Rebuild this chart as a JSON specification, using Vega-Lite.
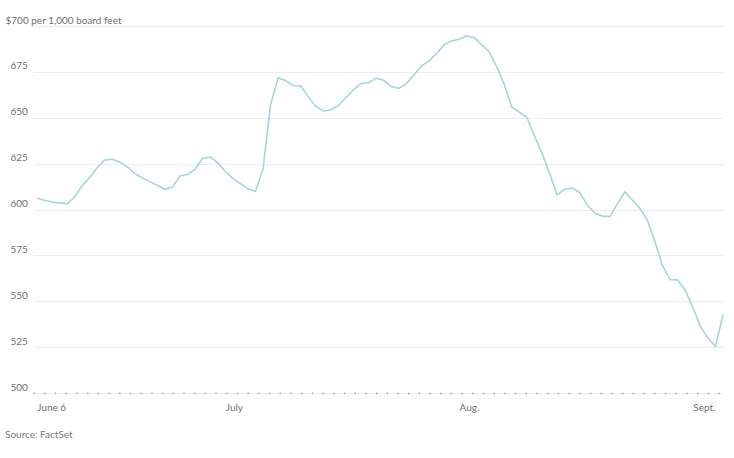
{
  "$schema": "https://vega.github.io/schema/vega-lite/v6.json",
  "autosize": "none",
  "width": 690,
  "height": 367,
  "padding": {"left": 33, "top": 26, "right": 11, "bottom": 65},
  "background": "white",
  "config": {
    "view": {"stroke": null},
    "font": "Lato",
    "axis": {"labelFont": "Lato", "labelFontSize": 10, "labelColor": "#6f6f6f"}
  },
  "title": {
    "text": "Source: FactSet",
    "orient": "bottom",
    "anchor": "start",
    "frame": "group",
    "dx": -28,
    "offset": 18,
    "font": "Lato",
    "fontSize": 10,
    "fontWeight": "normal",
    "color": "#7a7a7a"
  },
  "data": {
    "values": [
      {"date": "2022-06-06", "price": 606.1},
      {"date": "2022-06-07", "price": 605.0},
      {"date": "2022-06-08", "price": 604.1},
      {"date": "2022-06-09", "price": 603.6},
      {"date": "2022-06-10", "price": 603.1},
      {"date": "2022-06-11", "price": 606.8},
      {"date": "2022-06-12", "price": 612.8},
      {"date": "2022-06-13", "price": 617.5},
      {"date": "2022-06-14", "price": 622.7},
      {"date": "2022-06-15", "price": 627.0},
      {"date": "2022-06-16", "price": 627.4},
      {"date": "2022-06-17", "price": 625.9},
      {"date": "2022-06-18", "price": 623.2},
      {"date": "2022-06-19", "price": 619.7},
      {"date": "2022-06-20", "price": 617.2},
      {"date": "2022-06-21", "price": 615.2},
      {"date": "2022-06-22", "price": 613.1},
      {"date": "2022-06-23", "price": 611.0},
      {"date": "2022-06-24", "price": 612.2},
      {"date": "2022-06-25", "price": 618.3},
      {"date": "2022-06-26", "price": 619.1},
      {"date": "2022-06-27", "price": 621.9},
      {"date": "2022-06-28", "price": 627.9},
      {"date": "2022-06-29", "price": 628.6},
      {"date": "2022-06-30", "price": 625.4},
      {"date": "2022-07-01", "price": 620.7},
      {"date": "2022-07-02", "price": 617.0},
      {"date": "2022-07-03", "price": 614.1},
      {"date": "2022-07-04", "price": 611.3},
      {"date": "2022-07-05", "price": 609.8},
      {"date": "2022-07-06", "price": 622.0},
      {"date": "2022-07-07", "price": 657.0},
      {"date": "2022-07-08", "price": 671.8},
      {"date": "2022-07-09", "price": 670.2},
      {"date": "2022-07-10", "price": 667.6},
      {"date": "2022-07-11", "price": 667.3},
      {"date": "2022-07-12", "price": 661.5},
      {"date": "2022-07-13", "price": 656.2},
      {"date": "2022-07-14", "price": 653.7},
      {"date": "2022-07-15", "price": 654.4},
      {"date": "2022-07-16", "price": 656.6},
      {"date": "2022-07-17", "price": 661.0},
      {"date": "2022-07-18", "price": 665.2},
      {"date": "2022-07-19", "price": 668.7},
      {"date": "2022-07-20", "price": 669.1},
      {"date": "2022-07-21", "price": 671.6},
      {"date": "2022-07-22", "price": 670.4},
      {"date": "2022-07-23", "price": 667.0},
      {"date": "2022-07-24", "price": 666.0},
      {"date": "2022-07-25", "price": 668.5},
      {"date": "2022-07-26", "price": 673.3},
      {"date": "2022-07-27", "price": 678.2},
      {"date": "2022-07-28", "price": 681.0},
      {"date": "2022-07-29", "price": 684.9},
      {"date": "2022-07-30", "price": 689.7},
      {"date": "2022-07-31", "price": 691.8},
      {"date": "2022-08-01", "price": 692.8},
      {"date": "2022-08-02", "price": 694.6},
      {"date": "2022-08-03", "price": 693.7},
      {"date": "2022-08-04", "price": 689.8},
      {"date": "2022-08-05", "price": 686.0},
      {"date": "2022-08-06", "price": 677.7},
      {"date": "2022-08-07", "price": 668.0},
      {"date": "2022-08-08", "price": 655.7},
      {"date": "2022-08-09", "price": 653.0},
      {"date": "2022-08-10", "price": 650.1},
      {"date": "2022-08-11", "price": 640.1},
      {"date": "2022-08-12", "price": 630.7},
      {"date": "2022-08-13", "price": 619.6},
      {"date": "2022-08-14", "price": 608.0},
      {"date": "2022-08-15", "price": 611.0},
      {"date": "2022-08-16", "price": 611.7},
      {"date": "2022-08-17", "price": 609.3},
      {"date": "2022-08-18", "price": 602.3},
      {"date": "2022-08-19", "price": 598.1},
      {"date": "2022-08-20", "price": 596.4},
      {"date": "2022-08-21", "price": 596.1},
      {"date": "2022-08-22", "price": 603.2},
      {"date": "2022-08-23", "price": 609.6},
      {"date": "2022-08-24", "price": 605.0},
      {"date": "2022-08-25", "price": 600.6},
      {"date": "2022-08-26", "price": 594.0},
      {"date": "2022-08-27", "price": 582.2},
      {"date": "2022-08-28", "price": 569.2},
      {"date": "2022-08-29", "price": 561.8},
      {"date": "2022-08-30", "price": 561.6},
      {"date": "2022-08-31", "price": 555.9},
      {"date": "2022-09-01", "price": 546.7},
      {"date": "2022-09-02", "price": 536.3},
      {"date": "2022-09-03", "price": 530.0},
      {"date": "2022-09-04", "price": 525.3},
      {"date": "2022-09-05", "price": 542.7}
    ]
  },
  "mark": {"type": "line", "color": "#a3d6de", "strokeWidth": 1.6, "clip": false},
  "encoding": {
    "x": {
      "field": "date",
      "type": "temporal",
      "title": null,
      "scale": {
        "type": "utc",
        "domain": [
          {"year": 2022, "month": 6, "date": 5, "hours": 12, "utc": true},
          {"year": 2022, "month": 9, "date": 5, "utc": true}
        ]
      },
      "axis": {
        "values": [
          {"year": 2022, "month": 6, "date": 6, "utc": true},
          {"year": 2022, "month": 7, "date": 1, "utc": true},
          {"year": 2022, "month": 8, "date": 1, "utc": true},
          {"year": 2022, "month": 9, "date": 1, "utc": true}
        ],
        "labelExpr": "utcmonth(datum.value) == 5 ? 'June 6' : utcmonth(datum.value) == 6 ? 'July' : utcmonth(datum.value) == 7 ? 'Aug.' : 'Sept.'",
        "labelAlign": "left",
        "labelPadding": 9,
        "labelFlush": false,
        "labelOverlap": false,
        "grid": false,
        "ticks": false,
        "domain": true,
        "domainColor": "#9a9a9a",
        "domainWidth": 1.4,
        "domainDash": [1.4, 9.3]
      }
    },
    "y": {
      "field": "price",
      "type": "quantitative",
      "title": null,
      "scale": {"domain": [500, 700], "nice": false, "zero": false},
      "axis": {
        "values": [500, 525, 550, 575, 600, 625, 650, 675, 700],
        "labelExpr": "datum.value == 700 ? '$700 per 1,000 board feet' : datum.label",
        "labelAlign": "left",
        "labelBaseline": "alphabetic",
        "labelOffset": -3,
        "labelPadding": {"condition": {"test": "datum.value == 700", "value": 28}, "value": 23},
        "grid": true,
        "gridColor": "#ececec",
        "gridWidth": 1,
        "ticks": false,
        "domain": false
      }
    }
  }
}
